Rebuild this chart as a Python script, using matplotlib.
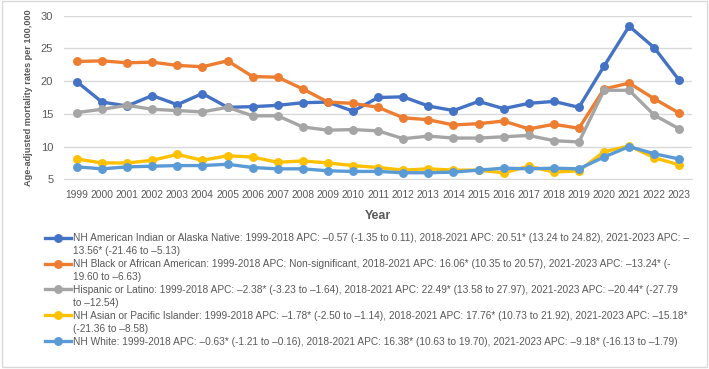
#!/usr/bin/env python3
"""Age-adjusted mortality rates by race/ethnicity, 1999-2023."""
import matplotlib
matplotlib.use('Agg')
import matplotlib.pyplot as plt
from matplotlib.lines import Line2D
from matplotlib.patches import Rectangle

years = list(range(1999, 2024))

aian = [19.9, 16.8, 16.2, 17.8, 16.4, 18.1, 16.0, 16.1, 16.3, 16.7, 16.8, 15.4, 17.5,
        17.6, 16.2, 15.5, 16.9, 15.8, 16.6, 16.9, 16.0, 22.3, 28.4, 25.1, 20.1]
black = [23.0, 23.1, 22.8, 22.9, 22.4, 22.2, 23.1, 20.7, 20.6, 18.8, 16.8, 16.6, 16.0,
         14.4, 14.1, 13.3, 13.5, 13.9, 12.7, 13.4, 12.8, 18.8, 19.7, 17.3, 15.1]
hispanic = [15.2, 15.7, 16.3, 15.7, 15.5, 15.3, 16.0, 14.7, 14.7, 13.0, 12.5, 12.6, 12.4,
            11.2, 11.6, 11.3, 11.3, 11.5, 11.7, 10.9, 10.7, 18.6, 18.6, 14.8, 12.7]
asian = [8.1, 7.5, 7.5, 7.9, 8.8, 7.9, 8.6, 8.4, 7.6, 7.8, 7.5, 7.1, 6.8,
         6.4, 6.6, 6.4, 6.4, 6.0, 7.0, 6.1, 6.3, 9.2, 10.1, 8.3, 7.2]
white = [6.9, 6.6, 6.9, 7.0, 7.1, 7.1, 7.3, 6.8, 6.6, 6.6, 6.3, 6.2, 6.2,
         6.0, 6.0, 6.1, 6.4, 6.7, 6.6, 6.7, 6.6, 8.4, 10.0, 8.9, 8.1]

# legend text, split where the original wraps
labels = [
    ('NH American Indian or Alaska Native: 1999-2018 APC: \u20130.57 (-1.35 to 0.11), '
     '2018-2021 APC: 20.51* (13.24 to 24.82), 2021-2023 APC: \u2013',
     '13.56* (-21.46 to \u20135.13)'),
    ('NH Black or African American: 1999-2018 APC: Non-significant, 2018-2021 APC: '
     '16.06* (10.35 to 20.57), 2021-2023 APC: \u201313.24* (-',
     '19.60 to \u20136.63)'),
    ('Hispanic or Latino: 1999-2018 APC: \u20132.38* (-3.23 to \u20131.64), 2018-2021 APC: '
     '22.49* (13.58 to 27.97), 2021-2023 APC: \u201320.44* (-27.79',
     'to \u201312.54)'),
    ('NH Asian or Pacific Islander: 1999-2018 APC: \u20131.78* (-2.50 to \u20131.14), '
     '2018-2021 APC: 17.76* (10.73 to 21.92), 2021-2023 APC: \u201315.18*',
     '(-21.36 to \u20138.58)'),
    ('NH White: 1999-2018 APC: \u20130.63* (-1.21 to \u20130.16), 2018-2021 APC: 16.38* '
     '(10.63 to 19.70), 2021-2023 APC: \u20139.18* (-16.13 to \u20131.79)', None),
]

series = [aian, black, hispanic, asian, white]
colors = ['#4472C4', '#ED7D31', '#A5A5A5', '#FFC000', '#5B9BD5']
text_color = '#595959'

plt.rcParams['font.family'] = ['Liberation Sans', 'DejaVu Sans']

fig = plt.figure(figsize=(7.09, 3.69), dpi=100)
ax = fig.add_axes([0.0908, 0.5141, 0.8851, 0.4434])

x = list(range(len(years)))
lines = []
for vals, c in zip(series, colors):
    ln, = ax.plot(x, vals, color=c, lw=2.4, marker='o', ms=5.4, zorder=3)
    lines.append(ln)

ax.set_xlim(-0.5, len(years) - 0.5)
ax.set_ylim(5, 30)
ax.set_yticks([5, 10, 15, 20, 25, 30])
ax.set_xticks(x)
ax.set_xticklabels([str(y) for y in years])
ax.tick_params(length=0, labelsize=7.4, colors=text_color, pad=8)
ax.tick_params(axis='y', labelsize=8, pad=8)
ax.grid(axis='y', color='#D9D9D9', lw=1)
for side in ['top', 'right', 'left']:
    ax.spines[side].set_visible(False)
ax.spines['bottom'].set_color('#D9D9D9')
ax.set_axisbelow(True)

ax.set_ylabel('Age-adjusted mortality rates per 100,000', fontsize=6.6,
              fontweight='bold', color=text_color, labelpad=6)
ax.set_xlabel('Year', fontsize=9, fontweight='bold', color=text_color, labelpad=7)

# legend: first line carries the handle, wrapped part gets a blank handle
handles, texts = [], []
for ln, (first, rest) in zip(lines, labels):
    handles.append(ln)
    texts.append(first)
    if rest:
        handles.append(Line2D([], [], linestyle='none'))
        texts.append(rest)

fig.legend(handles, texts, loc='upper left', bbox_to_anchor=(0.0635, 0.368),
           frameon=False, fontsize=7.3, labelcolor=text_color, handlelength=2.6,
           handletextpad=0.15, labelspacing=0.29, borderpad=0, borderaxespad=0,
           numpoints=1)

fig.patches.append(Rectangle((0.003, 0.006), 0.994, 0.99, transform=fig.transFigure,
                             fill=False, edgecolor='#D9D9D9', lw=1))

fig.savefig('out.png', dpi=100)
